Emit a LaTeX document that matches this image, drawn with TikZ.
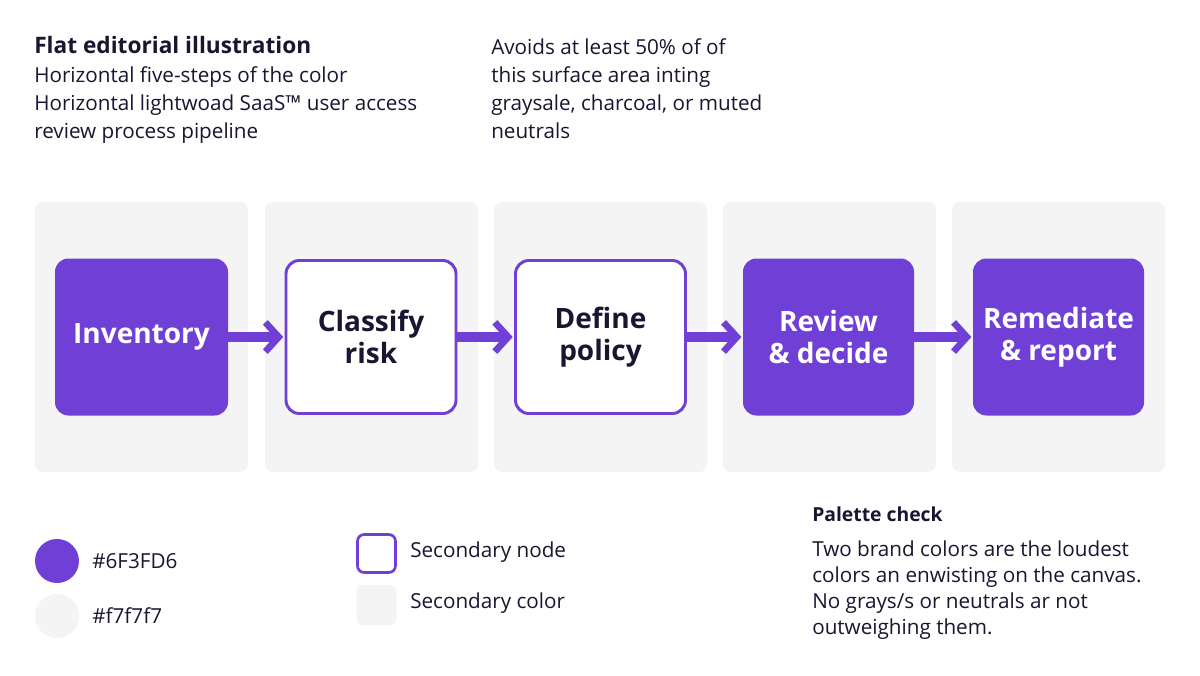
\documentclass[tikz,border=0pt]{standalone}
\usepackage{fontspec}
\setmainfont{Open Sans}
\usetikzlibrary{arrows.meta}
\definecolor{brand}{HTML}{6F3FD6}
\definecolor{panel}{HTML}{F4F4F4}
\definecolor{ink}{HTML}{1A1530}
\begin{document}
\begin{tikzpicture}[x=0.75pt,y=-0.75pt,
  panelbox/.style={fill=panel,draw=none,rounded corners=6pt},
  filled/.style={fill=brand,draw=none,rounded corners=10pt,text=white,font=\fontsize{21}{24}\selectfont\bfseries,align=center},
  outlined/.style={fill=white,draw=brand,line width=2.2pt,rounded corners=10pt,text=ink,font=\fontsize{21}{24}\selectfont\bfseries,align=center},
  conn/.style={draw=brand,line width=7pt,-{Straight Barb[length=10pt,width=22pt,line width=5pt]}},
  body/.style={font=\fontsize{15.5}{21}\selectfont,text=ink,anchor=north west,align=left,inner sep=0pt}]
\useasboundingbox (0,0) rectangle (1200,675);
\fill[white] (0,0) rectangle (1200,675);
\node[body,font=\fontsize{17}{21}\selectfont\bfseries] (title) at (34,36) {Flat editorial illustration};
\node[body] (sub) at (34,66) {Horizontal five-steps of the color\\Horizontal lightwoad SaaS™ user access\\review process pipeline};
\node[body] (note) at (491,38) {Avoids at least 50\% of of\\this surface area inting\\graysale, charcoal, or muted\\neutrals};
\foreach \x/\n in {35/p1,265/p2,494/p3,723/p4,952/p5}
  \path[panelbox] (\x,202) rectangle ++(213,270);
\node[filled,minimum width=129.75pt,minimum height=117.75pt] (a) at (141.5,337) {Inventory};
\node[outlined,minimum width=127.5pt,minimum height=114.75pt] (b) at (371,337) {Classify\\risk};
\node[outlined,minimum width=127.5pt,minimum height=114.75pt] (c) at (600.5,337) {Define\\policy};
\node[filled,minimum width=128.25pt,minimum height=117.75pt] (d) at (828.5,337) {Review\\\& decide};
\node[filled,minimum width=128.25pt,minimum height=117.75pt] (e) at (1058.5,337) {Remediate\\\& report};
\draw[conn] (a.east) -- ([xshift=-1pt]b.west);
\draw[conn] (b.east) -- ([xshift=-1pt]c.west);
\draw[conn] (c.east) -- ([xshift=-1pt]d.west);
\draw[conn] (d.east) -- ([xshift=-1pt]e.west);
\node[circle,fill=brand,minimum size=33pt,inner sep=0pt] (l1) at (57,561) {};
\node[circle,fill=panel,minimum size=33pt,inner sep=0pt] (l2) at (57,616) {};
\node[body,anchor=west] (t1) at (92,561) {\#6F3FD6};
\node[body,anchor=west] (t2) at (92,616) {\#f7f7f7};
\node[draw=brand,line width=2pt,fill=white,rounded corners=5pt,minimum size=28.5pt,inner sep=0pt] (l3) at (376.5,553.5) {};
\node[fill=panel,rounded corners=5pt,minimum size=30pt,inner sep=0pt] (l4) at (376.5,605) {};
\node[body,anchor=west] (t3) at (410,552) {Secondary node};
\node[body,anchor=west] (t4) at (410,603) {Secondary color};
\node[body,font=\fontsize{14.5}{18}\selectfont\bfseries] (pc) at (812,507) {Palette check};
\node[body,font=\fontsize{15.5}{19.5}\selectfont] (pt) at (812,541) {Two brand colors are the loudest\\colors an enwisting on the canvas.\\No grays/s or neutrals ar not\\outweighing them.};
\end{tikzpicture}
\end{document}
